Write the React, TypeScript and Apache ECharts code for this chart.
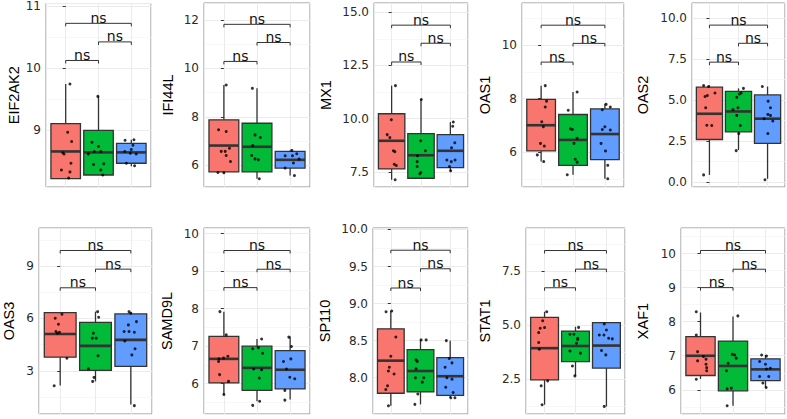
import React, { useEffect, useRef } from "react";
import * as echarts from "echarts";

const groupColors = ["#F8766D", "#00BA38", "#619CFF"];
const FONT = '"Liberation Sans", Arial, Helvetica, sans-serif';
const WIDE_FONT = '"DejaVu Sans", "Liberation Sans", sans-serif';

// box stats: [min, Q1, median, Q3, max] per group
const eif2ak2Box = [[8.21, 8.21, 8.65, 9.1, 9.74], [8.27, 8.27, 8.635, 8.99, 9.54], [8.41, 8.46, 8.635, 8.78, 8.84]];
const eif2ak2Values = [[9.74, 8.96, 8.81, 8.63, 8.61, 8.46, 8.35, 8.32, 8.22], [9.54, 8.8, 8.73, 8.65, 8.65, 8.61, 8.44, 8.45, 8.35, 8.27], [8.83, 8.84, 8.75, 8.65, 8.62, 8.61, 8.46, 8.42, 8.68]];
const eif2ak2Jitter = [[0.13, 0.06, 0.18, -0.09, -0.05, 0.16, -0.13, 0.13, 0.09], [-0.02, -0.2, 0, -0.13, 0.07, -0.31, -0.15, 0.16, 0.07, 0.13], [-0.19, 0.08, 0.05, -0.2, -0.03, 0.15, -0.15, 0.1, 0.0]];
const eif2ak2Brackets = [10.12, 10.42, 10.72];
const eif2ak2Axis = [8.076, 11.04, 1, 0];

const ifi44lBox = [[5.7, 5.73, 6.82, 7.88, 9.32], [5.45, 5.73, 6.77, 7.74, 9.18], [5.58, 5.89, 6.23, 6.58, 6.62]];
const ifi44lValues = [[9.32, 7.47, 7.4, 6.71, 6.58, 6.58, 6.41, 6.16, 5.71, 5.7], [9.18, 7.26, 7.15, 6.82, 6.41, 6.27, 6.23, 5.45], [6.62, 6.48, 6.4, 6.4, 6.26, 6.1, 5.89, 5.58]];
const ifi44lJitter = [[0.07, -0.16, 0.07, 0.17, -0.08, 0.04, 0.07, 0.2, -0.18, 0], [-0.14, -0.06, 0.1, -0.13, -0.16, -0.06, 0.04, 0.07], [0.05, 0.2, -0.15, 0.07, 0.27, 0.1, -0.15, 0.13]];
const ifi44lBrackets = [10.29, 11.07, 11.82];
const ifi44lAxis = [5.11, 12.7, 2, 0];

const mx1Box = [[7.13, 7.64, 8.96, 10.23, 11.55], [7.2, 7.2, 8.28, 9.3, 10.9], [7.52, 7.7, 8.49, 9.25, 9.84]];
const mx1Values = [[11.55, 9.95, 9.25, 9.11, 8.49, 8.45, 7.86, 7.8, 7.13], [10.9, 8.96, 8.49, 8.26, 7.98, 7.75, 7.47, 7.41], [9.84, 9.64, 8.87, 8.63, 8.06, 8.06, 7.98, 7.75, 7.55]];
const mx1Jitter = [[0.13, -0.01, -0.15, -0.06, 0.06, 0.11, 0.09, 0.16, 0.12], [0.01, -0.01, 0.15, -0.12, -0.13, -0.13, -0.01, -0.04], [0.1, 0.08, 0.15, 0.04, -0.12, 0.16, 0.03, -0.03, 0.01]];
const mx1Brackets = [12.66, 13.54, 14.39];
const mx1Axis = [6.79, 15.43, 2.5, 1];

const oas1Box = [[5.65, 6.05, 7.01, 7.98, 8.49], [5.16, 5.51, 6.46, 7.41, 8.25], [5.01, 5.72, 6.68, 7.62, 7.81]];
const oas1Values = [[8.49, 7.91, 7.69, 7.14, 6.95, 6.33, 6.23, 5.9, 5.65], [8.25, 7.57, 6.88, 6.85, 6.52, 6.33, 5.74, 5.63, 5.16], [7.79, 7.69, 7.59, 6.95, 6.85, 6.83, 6.33, 6.05, 5.51, 5.01]];
const oas1Jitter = [[0.13, 0.17, 0.13, 0.02, 0.07, -0.02, 0.1, -0.12, 0.08], [0.13, -0.15, -0.08, -0.02, 0.13, 0.03, 0.07, 0.13, -0.18], [0.04, 0.17, -0.08, 0, -0.08, 0.17, -0.12, 0.02, 0.09, 0.09]];
const oas1Brackets = [9.37, 10.07, 10.75];
const oas1Axis = [4.7, 11.58, 2, 0];

const oas2Box = [[0.42, 2.58, 4.15, 5.77, 5.87], [1.94, 3.04, 4.29, 5.52, 5.7], [0.18, 2.34, 3.85, 5.3, 5.81]];
const oas2Values = [[5.87, 5.81, 5.2, 5.26, 5.42, 4.52, 3.45, 3.43, 0.42], [5.7, 5.42, 5.36, 5.16, 4.4, 4.52, 4.05, 3.43, 2.94, 1.9], [5.81, 4.92, 4.52, 4.11, 4.05, 3.85, 3.71, 2.94, 0.12]];
const oas2Jitter = [[-0.2, -0.03, -0.15, -0.07, 0.19, -0.13, -0.09, 0.08, -0.2], [0.17, 0.09, 0.03, -0.06, -0.19, -0.02, -0.06, 0.06, 0.01, -0.08], [-0.18, 0.02, 0.1, 0.01, 0.1, -0.12, 0.18, 0.01, -0.09]];
const oas2Brackets = [7.3, 8.45, 9.56];
const oas2Axis = [-0.32, 10.91, 2.5, 1];

const oas3Box = [[2.16, 3.78, 5.11, 6.33, 6.33], [2.39, 3.02, 4.43, 5.78, 6.39], [1.06, 3.25, 4.77, 6.26, 6.35]];
const oas3Values = [[6.24, 6.01, 5.67, 5.25, 5.21, 5.15, 3.72, 2.14], [6.39, 6.07, 5.15, 4.87, 4.87, 3.86, 3.11, 2.62, 2.39], [6.39, 6.3, 5.63, 5.82, 5.25, 5.25, 5.21, 4.71, 4.26, 3.91, 1.0]];
const oas3Jitter = [[0.05, -0.14, -0.05, -0.12, -0.02, -0.08, 0.19, -0.17], [0.06, 0.09, -0.06, -0.09, 0.02, 0.07, -0.2, -0.04, -0.08], [-0.05, 0, -0.07, 0.16, -0.19, -0.05, 0.1, -0.17, 0.12, 0.03, 0.1]];
const oas3Brackets = [7.76, 8.83, 9.9];
const oas3Axis = [0.52, 11.19, 3, 0];

const samd9lBox = [[5.71, 6.02, 6.66, 7.26, 7.92], [5.53, 5.82, 6.42, 7.0, 7.19], [5.58, 5.86, 6.37, 6.88, 7.26]];
const samd9lValues = [[7.92, 7.3, 6.73, 6.66, 6.59, 6.68, 6.24, 6.06, 5.71], [7.19, 6.93, 6.96, 6.81, 6.39, 6.37, 6.15, 5.53, 5.42], [7.24, 6.99, 6.66, 6.59, 6.39, 6.17, 6.13, 5.82, 5.56]];
const samd9lJitter = [[-0.12, 0.07, 0.12, -0.15, -0.16, -0.01, -0.13, 0.14, 0], [0.14, -0.13, 0.04, 0.17, -0.1, 0.14, 0.07, 0.08, -0.13], [-0.04, 0.04, 0.02, -0.2, -0.11, -0.01, 0.14, -0.16, -0.16]];
const samd9lBrackets = [8.56, 9.05, 9.55];
const samd9lAxis = [5.19, 10.15, 1, 0];

const sp110Box = [[7.62, 7.79, 8.23, 8.66, 8.9], [7.64, 7.81, 8.09, 8.38, 8.51], [7.73, 7.76, 8.02, 8.27, 8.5]];
const sp110Values = [[8.89, 8.9, 8.55, 8.29, 8.14, 8.09, 8.05, 7.89, 7.84, 7.62], [8.51, 8.51, 8.24, 8.22, 8.12, 8.0, 8.0, 7.94, 7.78, 7.64], [8.5, 8.26, 8.2, 8.14, 8.0, 7.98, 7.87, 7.8, 7.73, 7.73]];
const sp110Jitter = [[-0.16, 0.03, 0.17, 0, -0.05, -0.08, 0.11, -0.11, -0.17, -0.08], [0.02, 0.19, -0.15, -0.11, -0.15, -0.17, 0.11, 0.06, -0.09, -0.19], [-0.13, -0.03, 0.06, -0.17, -0.11, 0.06, -0.15, 0.1, 0.02, 0.16]];
const sp110Brackets = [9.21, 9.47, 9.72];
const sp110Axis = [7.51, 10.02, 0.5, 1];

const stat1Box = [[1.32, 2.47, 3.93, 5.35, 5.61], [2.65, 3.31, 4.03, 4.72, 4.92], [1.24, 3.01, 4.05, 5.11, 5.11]];
const stat1Values = [[5.61, 5.2, 4.85, 4.88, 4.65, 4.19, 3.88, 2.42, 2.19, 1.32], [4.89, 4.57, 4.57, 4.39, 4.16, 4.33, 3.8, 3.7, 3.11, 2.65], [5.05, 4.77, 4.54, 4.54, 4.39, 4.36, 3.82, 3.62, 1.24]];
const stat1Jitter = [[0.07, -0.06, -0.14, 0, -0.19, -0.19, -0.17, 0.1, -0.11, -0.08], [0.1, -0.18, -0.05, 0.07, 0.03, 0.07, -0.18, 0.16, -0.1, -0.02], [-0.07, 0, -0.23, -0.08, 0.07, 0.19, -0.16, -0.02, -0.07]];
const stat1Brackets = [6.72, 7.58, 8.44];
const stat1Axis = [0.89, 9.48, 2.5, 1];

const xaf1Box = [[6.32, 6.42, 7.0, 7.56, 8.27], [5.53, 5.97, 6.7, 7.43, 8.15], [6.07, 6.27, 6.6, 6.91, 7.02]];
const xaf1Values = [[8.29, 7.61, 7.12, 6.85, 6.98, 6.9, 6.75, 6.65, 6.56, 6.31], [8.17, 7.04, 7.02, 6.93, 6.78, 6.56, 6.03, 6.05, 5.53], [7.02, 6.99, 6.83, 6.75, 6.63, 6.61, 6.39, 6.39, 6.2, 6.07]];
const xaf1Jitter = [[-0.13, -0.13, -0.09, -0.09, 0.09, 0.17, 0.17, 0.19, 0.19, -0.13], [0.15, -0.02, 0.05, 0.1, -0.15, -0.2, -0.18, -0.05, -0.18], [-0.12, 0.03, -0.18, 0, 0.15, 0.03, -0.18, 0.1, -0.08, 0.02]];
const xaf1Brackets = [9.0, 9.54, 10.09];
const xaf1Axis = [5.29, 10.75, 1, 0];

const genes = ["EIF2AK2", "IFI44L", "MX1", "OAS1", "OAS2", "OAS3", "SAMD9L", "SP110", "STAT1", "XAF1"];
const boxes = [eif2ak2Box, ifi44lBox, mx1Box, oas1Box, oas2Box, oas3Box, samd9lBox, sp110Box, stat1Box, xaf1Box];
const values = [eif2ak2Values, ifi44lValues, mx1Values, oas1Values, oas2Values, oas3Values, samd9lValues, sp110Values, stat1Values, xaf1Values];
const jitters = [eif2ak2Jitter, ifi44lJitter, mx1Jitter, oas1Jitter, oas2Jitter, oas3Jitter, samd9lJitter, sp110Jitter, stat1Jitter, xaf1Jitter];
const brackets = [eif2ak2Brackets, ifi44lBrackets, mx1Brackets, oas1Brackets, oas2Brackets, oas3Brackets, samd9lBrackets, sp110Brackets, stat1Brackets, xaf1Brackets];
const axes = [eif2ak2Axis, ifi44lAxis, mx1Axis, oas1Axis, oas2Axis, oas3Axis, samd9lAxis, sp110Axis, stat1Axis, xaf1Axis];

// layout: [left, top, width, height, nameGap]
const layout = [
  [46, 3, 105, 184, 25],
  [204, 3, 106, 184, 29],
  [374, 3, 94, 184, 41],
  [522, 3, 102, 184, 30],
  [692, 3, 93, 184, 42],
  [39, 228, 113, 186, 23],
  [204, 228, 106, 186, 30],
  [373, 228, 95, 186, 41],
  [526, 228, 99, 186, 34],
  [681, 228, 104, 186, 31],
];

function buildOption() {
  const grid: any[] = [];
  const xAxis: any[] = [];
  const yAxis: any[] = [];
  const series: any[] = [];
  genes.forEach((gene, i) => {
    const [left, top, width, height, nameGap] = layout[i];
    const [ymin, ymax, step, dec] = axes[i];
    grid.push({ left, top, width, height, show: true, borderColor: "#8c8c8c", borderWidth: 1, backgroundColor: "#fff" });
    xAxis.push({
      type: "value", gridIndex: i, min: -0.6, max: 2.6, minInterval: 1, maxInterval: 1,
      axisLabel: { show: false }, axisTick: { show: false }, axisLine: { show: false },
      splitLine: { show: true, lineStyle: { color: "#ebebeb", width: 1 } },
    });
    yAxis.push({
      type: "value", gridIndex: i, min: ymin, max: ymax, minInterval: step, maxInterval: step,
      name: gene, nameLocation: "middle", nameGap,
      nameTextStyle: { fontSize: 14.5, color: "#000", fontFamily: FONT },
      axisLine: { show: false },
      axisTick: { show: true, length: 3, lineStyle: { color: "#333" } },
      axisLabel: {
        fontSize: 12, color: "#2a2a2a", margin: 5, fontFamily: WIDE_FONT,
        showMinLabel: false, showMaxLabel: false,
        formatter: (v: number) => v.toFixed(dec),
      },
      splitLine: { show: true, lineStyle: { color: "#ebebeb", width: 1 } },
      minorTick: { show: false, splitNumber: 2 },
      minorSplitLine: { show: true, lineStyle: { color: "#f4f4f4", width: 0.7 } },
    });
    series.push({
      type: "custom", xAxisIndex: i, yAxisIndex: i, z: 2,
      encode: { x: 0, y: [1, 2, 3, 4, 5] },
      data: boxes[i].map((b, g) => [g, ...b]),
      renderItem: (params: any, api: any) => {
        const x = api.value(0);
        const lo = api.coord([x, api.value(1)]);
        const q1 = api.coord([x, api.value(2)]);
        const med = api.coord([x, api.value(3)]);
        const q3 = api.coord([x, api.value(4)]);
        const hi = api.coord([x, api.value(5)]);
        const w = api.size([0.9, 0])[0];
        const cx = q1[0];
        const stroke = "#333333";
        return {
          type: "group",
          children: [
            { type: "line", shape: { x1: cx, y1: lo[1], x2: cx, y2: q1[1] }, style: { stroke, lineWidth: 1.3 } },
            { type: "line", shape: { x1: cx, y1: hi[1], x2: cx, y2: q3[1] }, style: { stroke, lineWidth: 1.3 } },
            { type: "rect", shape: { x: cx - w / 2, y: q3[1], width: w, height: q1[1] - q3[1] }, style: { fill: groupColors[x], stroke, lineWidth: 1.3 } },
            { type: "line", shape: { x1: cx - w / 2, y1: med[1], x2: cx + w / 2, y2: med[1] }, style: { stroke, lineWidth: 2.6 } },
          ],
        };
      },
    });
    const pts: number[][] = [];
    values[i].forEach((arr, g) => arr.forEach((v, k) => pts.push([g + jitters[i][g][k], v])));
    series.push({
      type: "scatter", xAxisIndex: i, yAxisIndex: i, z: 3, data: pts,
      symbol: "circle", symbolSize: 3, itemStyle: { color: "#000" }, silent: true,
    });
    const b = brackets[i];
    series.push({
      type: "custom", xAxisIndex: i, yAxisIndex: i, z: 4,
      encode: { x: [0, 1], y: 2 },
      data: [[0, 1, b[0]], [1, 2, b[1]], [0, 2, b[2]]],
      renderItem: (params: any, api: any) => {
        const p1 = api.coord([api.value(0), api.value(2)]);
        const p2 = api.coord([api.value(1), api.value(2)]);
        const tip = 3;
        return {
          type: "group",
          children: [
            {
              type: "polyline",
              shape: { points: [[p1[0], p1[1] + tip], [p1[0], p1[1]], [p2[0], p2[1]], [p2[0], p2[1] + tip]] },
              style: { stroke: "#333", fill: null, lineWidth: 1 },
            },
            {
              type: "text", x: (p1[0] + p2[0]) / 2, y: p1[1] + 1.5,
              style: { text: "ns", fill: "#111", fontSize: 14, fontFamily: WIDE_FONT, align: "center", verticalAlign: "bottom" },
            },
          ],
        };
      },
    });
  });
  return { animation: false, backgroundColor: "#fff", grid, xAxis, yAxis, series };
}

export default function App() {
  const ref = useRef<HTMLDivElement>(null);
  useEffect(() => {
    document.body.style.margin = "0";
    const chart = echarts.init(ref.current!, null, { renderer: "svg" });
    chart.setOption(buildOption() as any);
    return () => chart.dispose();
  }, []);
  return <div ref={ref} style={{ width: 787, height: 419, position: "absolute", left: 0, top: 0 }} />;
}
